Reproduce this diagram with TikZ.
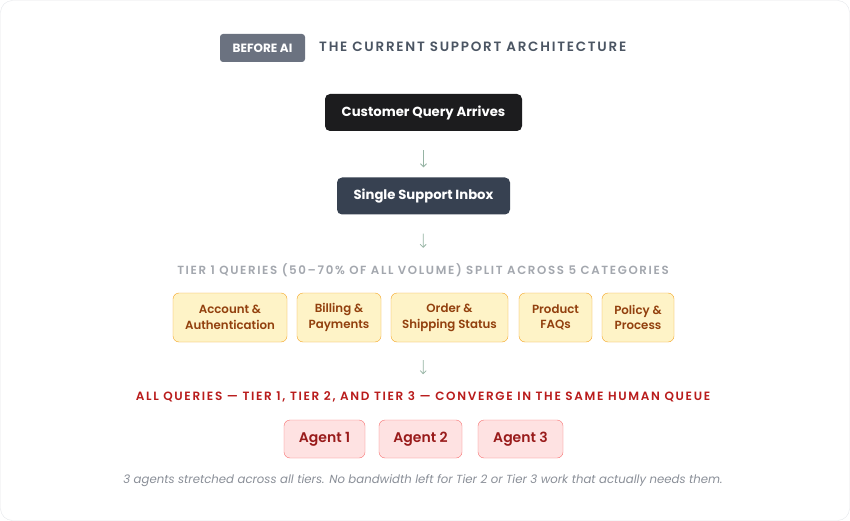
\documentclass[tikz,border=0pt]{standalone}
\usepackage{fontspec}
\setmainfont{Poppins}
\newfontfamily\semifont{Poppins}[UprightFont=*-SemiBold, ItalicFont=*-SemiBoldItalic]
\newfontfamily\capsfont{Poppins}[UprightFont=*-SemiBold, LetterSpace=14]
\newfontfamily\titlefont{Poppins}[UprightFont=*-SemiBold, LetterSpace=13]
\usetikzlibrary{arrows.meta}

\definecolor{badgegray}{HTML}{6B7280}
\definecolor{titlegray}{HTML}{4B5563}
\definecolor{darkbox}{HTML}{1C1C1E}
\definecolor{slatebox}{HTML}{374151}
\definecolor{flowgray}{HTML}{96B4A4}
\definecolor{tiergray}{HTML}{A3A7AE}
\definecolor{catfill}{HTML}{FEF3C7}
\definecolor{catline}{HTML}{F5A524}
\definecolor{cattext}{HTML}{92400E}
\definecolor{alertred}{HTML}{B91C1C}
\definecolor{agentfill}{HTML}{FEE2E2}
\definecolor{agentline}{HTML}{F87171}
\definecolor{agenttext}{HTML}{991B1B}
\definecolor{notegray}{HTML}{8A8F98}
\definecolor{framegray}{HTML}{E5E7EB}

\begin{document}
\begin{tikzpicture}[
                x=1pt, y=-1pt,
                stagebox/.style={rounded corners=5pt, text=white, font=\bfseries\fontsize{13.2}{15}\selectfont,
                    minimum height=37pt, inner sep=0pt},
                catbox/.style={rounded corners=6pt, draw=catline, fill=catfill, text=cattext,
                    font=\semifont\fontsize{11.8}{15.5}\selectfont, align=center, minimum height=49pt, inner sep=0pt},
                agentbox/.style={rounded corners=6pt, draw=agentline, fill=agentfill, text=agenttext,
                    font=\semifont\fontsize{14}{15}\selectfont, minimum height=38pt, inner sep=0pt},
                caption/.style={font=\capsfont\fontsize{12}{13}\selectfont},
                flow/.style={draw=flowgray, line width=0.8pt, -{Straight Barb[length=3pt, width=6pt]}}
            ]

            % card behind everything
            \draw[framegray, fill=white, rounded corners=12pt] (0.5, 0.5) rectangle (849.5, 520.5);
            \useasboundingbox (0, 0) rectangle (850, 521);

            % heading
            \node[fill=badgegray, text=white, rounded corners=3pt, minimum width=85pt, minimum height=28pt,
                inner sep=0pt, font=\bfseries\fontsize{12}{13}\selectfont] (badge) at (262.5, 48) {BEFORE AI};
            \node[anchor=west, text=titlegray, inner sep=0pt, font=\titlefont\fontsize{13.5}{15}\selectfont]
                (title) at (319, 47) {THE CURRENT SUPPORT ARCHITECTURE};

            % intake
            \node[stagebox, fill=darkbox, minimum width=197pt] (arrives) at (423.5, 112.5) {Customer Query Arrives};
            \node[stagebox, fill=slatebox, minimum width=173pt] (inbox) at (423.5, 196) {Single Support Inbox};

            % tier 1 split
            \node[caption, text=tiergray, font={\capsfont\fontsize{11.8}{13}\selectfont}] (tierone) at (423, 270)
                {TIER 1 QUERIES (50–70\% OF ALL VOLUME) SPLIT ACROSS 5 CATEGORIES};

            \node[catbox, minimum width=114pt] (account) at (230, 317.5) {Account \&\\Authentication};
            \node[catbox, minimum width=84pt]  (billing) at (339, 317.5) {Billing \&\\Payments};
            \node[catbox, minimum width=117pt] (order)   at (449.5, 317.5) {Order \&\\Shipping Status};
            \node[catbox, minimum width=73pt]  (product) at (555.5, 317.5) {Product\\FAQs};
            \node[catbox, minimum width=72pt]  (policy)  at (638, 317.5) {Policy \&\\Process};

            % one human queue
            \node[caption, text=alertred] (converge) at (423, 397)
                {ALL QUERIES — TIER 1, TIER 2, AND TIER 3 — CONVERGE IN THE SAME HUMAN QUEUE};

            \node[agentbox, minimum width=81pt] (agentA) at (324.5, 439) {Agent 1};
            \node[agentbox, minimum width=83pt] (agentB) at (420.5, 439) {Agent 2};
            \node[agentbox, minimum width=85pt] (agentC) at (520.5, 439) {Agent 3};

            \node[text=notegray, font=\itshape\fontsize{11.7}{13}\selectfont] (note) at (423, 481)
                {3 agents stretched across all tiers. No bandwidth left for Tier 2 or Tier 3 work that actually needs them.};

            % arrows
            \draw[flow, shorten <=19pt, shorten >=10pt] (arrives.south) -- (inbox.north);
            \draw[flow, shorten <=19pt, shorten >=12pt] (inbox.south) -- (tierone.north);
            \draw[flow, shorten <=18pt, shorten >=14pt] (order.south -| inbox.south) -- (converge.north);

        \end{tikzpicture}
\end{document}
